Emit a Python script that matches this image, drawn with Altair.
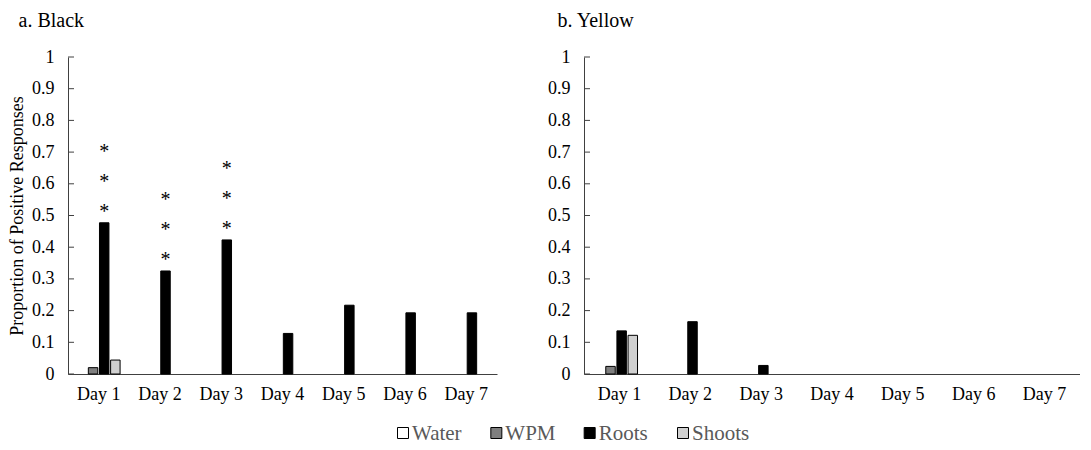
import altair as alt
import pandas as pd

days = ["Day 1", "Day 2", "Day 3", "Day 4", "Day 5", "Day 6", "Day 7"]
series = ["Water", "WPM", "Roots", "Shoots"]
series_colors = ["#ffffff", "#7f7f7f", "#000000", "#d0d0d0"]

black_water = [0, 0, 0, 0, 0, 0, 0]
black_wpm = [0.020, 0, 0, 0, 0, 0, 0]
black_roots = [0.477, 0.325, 0.423, 0.128, 0.217, 0.193, 0.193]
black_shoots = [0.044, 0, 0, 0, 0, 0, 0]
black_stars = [3, 3, 3, 0, 0, 0, 0]

yellow_water = [0, 0, 0, 0, 0, 0, 0]
yellow_wpm = [0.024, 0, 0, 0, 0, 0, 0]
yellow_roots = [0.136, 0.165, 0.027, 0, 0, 0, 0]
yellow_shoots = [0.122, 0, 0, 0, 0, 0, 0]
yellow_stars = [0, 0, 0, 0, 0, 0, 0]

y_ticks = [0, 0.1, 0.2, 0.3, 0.4, 0.5, 0.6, 0.7, 0.8, 0.9, 1]

FONT = "Liberation Serif"
AXIS_COLOR = "#404040"

color_scale = alt.Scale(domain=series, range=series_colors)


def make_panel(title, water, wpm, roots, shoots, stars, width, ytitle):
    rows = []
    for s, vals in zip(series, [water, wpm, roots, shoots]):
        for d, v in zip(days, vals):
            rows.append({"day": d, "series": s, "value": v})
    df = pd.DataFrame(rows)
    star_df = pd.DataFrame({"day": days, "series": "Roots", "value": roots, "stars": stars})
    tick_df = pd.DataFrame({"t": y_ticks})

    xenc = alt.X("day:N", sort=days,
                 scale=alt.Scale(domain=days, paddingInner=0.3, paddingOuter=0.15),
                 axis=alt.Axis(title=None, ticks=False, labelPadding=11, labelAngle=0,
                               labelFontSize=18, labelFont=FONT, labelColor="black",
                               domainColor=AXIS_COLOR, grid=False))
    xoff = alt.XOffset("series:N", sort=series,
                       scale=alt.Scale(domain=series, paddingInner=0.15))
    yaxis = alt.Axis(values=y_ticks, format="~g", ticks=False, tickSize=0, labelPadding=14,
                     labelFontSize=18, labelFont=FONT, labelColor="black",
                     domainColor=AXIS_COLOR, grid=False,
                     title=ytitle if ytitle else None, titleFont=FONT, titleFontSize=18,
                     titleFontWeight="normal", titleColor="black", titlePadding=5)
    yenc = alt.Y("value:Q", scale=alt.Scale(domain=[0, 1]), axis=yaxis)

    bars = alt.Chart(df).transform_filter("datum.value > 0").mark_bar(
        stroke="black", strokeWidth=1
    ).encode(
        x=xenc, xOffset=xoff, y=yenc,
        color=alt.Color("series:N", sort=series, scale=color_scale, legend=None),
    )

    inner_ticks = alt.Chart(tick_df).mark_rule(color=AXIS_COLOR, strokeWidth=1).encode(
        y=alt.Y("t:Q", scale=alt.Scale(domain=[0, 1]), axis=yaxis),
        x=alt.value(0), x2=alt.value(6),
    )

    layers = [inner_ticks, bars]
    for k, dy in zip([1, 2, 3], [-5, -35, -65]):
        layers.append(
            alt.Chart(star_df).transform_filter(f"datum.stars >= {k}").mark_text(
                text="*", font=FONT, fontSize=20, baseline="alphabetic", dy=dy, color="black"
            ).encode(x=xenc, xOffset=xoff, y=yenc)
        )

    return alt.layer(*layers).properties(
        width=width, height=317,
        title=alt.TitleParams(title, anchor="start", font=FONT, fontSize=20,
                              fontWeight="normal", color="black", dx=10, offset=17),
    )


left = make_panel("a. Black", black_water, black_wpm, black_roots, black_shoots,
                  black_stars, 429, "Proportion of Positive Responses")
right = make_panel("b. Yellow", yellow_water, yellow_wpm, yellow_roots, yellow_shoots,
                   yellow_stars, 496, None)

# custom legend row
leg_df = pd.DataFrame({"series": series})
leg_x = alt.X("series:N", sort=series,
              scale=alt.Scale(type="point", domain=series, range=[335, 615], padding=0),
              axis=None)
leg_sq = alt.Chart(leg_df).mark_square(size=121, stroke="black", strokeWidth=1, opacity=1).encode(
    x=leg_x, y=alt.value(10),
    fill=alt.Fill("series:N", sort=series, scale=color_scale, legend=None),
)
leg_tx = alt.Chart(leg_df).mark_text(
    align="left", baseline="middle", dx=9, dy=1, font=FONT, fontSize=21, color="#595959"
).encode(x=leg_x, y=alt.value(10), text="series:N")
legend_row = alt.layer(leg_sq, leg_tx).properties(width=800, height=20)

chart = alt.vconcat(
    alt.hconcat(left, right, spacing=50),
    legend_row,
    spacing=20,
).properties(
    padding={"top": 3, "left": 0, "right": 0, "bottom": 0}
).configure(background="white", font=FONT).configure_view(stroke=None)

chart.save("out.html", embed_options={"renderer": "svg", "actions": False})
